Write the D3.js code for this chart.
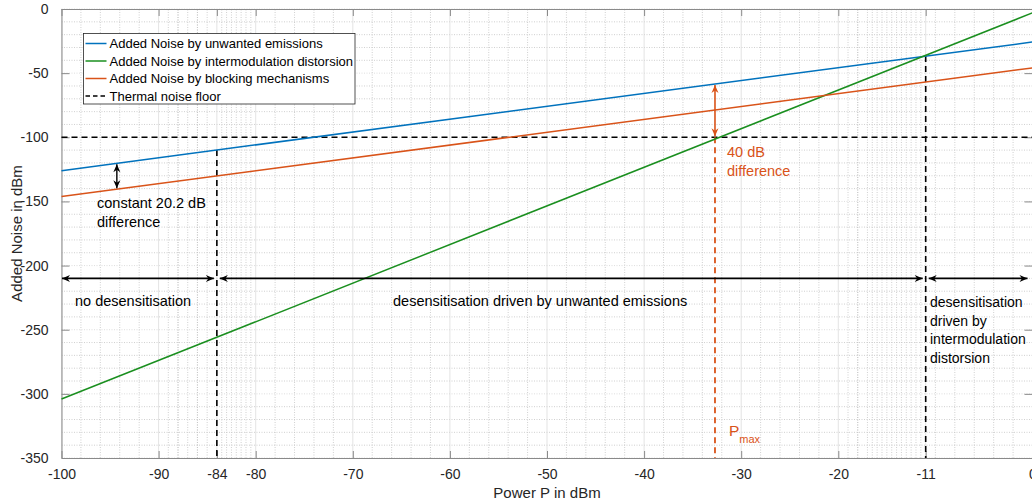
<!DOCTYPE html>
<html>
<head>
<meta charset="utf-8">
<script src="https://cdn.jsdelivr.net/npm/d3@7"></script>
<style>
  body { margin: 0; background: #fff; }
  text { font-family: "Liberation Sans", Arial, Helvetica, sans-serif; }
</style>
</head>
<body>
<svg id="chart" width="1032" height="504"></svg>
<script>
// data
const powerEnds = [-100, 0];
const unwantedEnds = [-126, -25.7];
const imdEnds = [-304, -3];
const blockingEnds = [-146.2, -45.9];
const thermalFloor = -100;
const boundaries = [-84, -11];
const regionSpans = [[-100, -84], [-84, -11], [-11, 0]];
const regionArrowLevel = -210;
const pMax = -32.7;
const diffAt = -94.3;

const xTicks = [-100, -90, -84, -80, -70, -60, -50, -40, -30, -20, -11, 0];
const yTicks = [-350, -300, -250, -200, -150, -100, -50, 0];
const xMinorExtra = [-89, -88, -87, -86, -85, -83.5, -83, -82.5, -81.5, -81, -80.5,
  -19, -18, -17, -16.5, -15.5, -15, -14.5, -13.5, -13, -12.5, -11.5];

const seriesNames = ['Added Noise by unwanted emissions', 'Added Noise by intermodulation distorsion',
  'Added Noise by blocking mechanisms', 'Thermal noise floor'];
const seriesColors = ['#0072BD', '#1A8F1F', '#D95319', '#000'];

const svg = d3.select('svg#chart');
const margin = { top: 9, right: -0.5, bottom: 46, left: 61.5 };
const W = +svg.attr('width'), H = +svg.attr('height');
const x = d3.scaleLinear().domain([-100, 0]).range([margin.left, W - margin.right]);
const y = d3.scaleLinear().domain([-350, 0]).range([H - margin.bottom, margin.top]);

const lineVal = (ends, p) => ends[0] + (ends[1] - ends[0]) * (p - powerEnds[0]) / (powerEnds[1] - powerEnds[0]);

// grid
const xMinor = d3.range(-98, 0, 2).filter(v => !xTicks.includes(v)).concat(xMinorExtra);
const yMinor = d3.range(-340, 0, 10).filter(v => !yTicks.includes(v));
const grid = svg.append('g');
grid.selectAll('.xmin').data(xMinor).join('line')
    .attr('x1', d => x(d)).attr('x2', d => x(d)).attr('y1', y(-350)).attr('y2', y(0))
    .attr('stroke', '#c4c4c4').attr('stroke-width', 0.8).attr('stroke-dasharray', '1,1.5');
grid.selectAll('.ymin').data(yMinor).join('line')
    .attr('y1', d => y(d)).attr('y2', d => y(d)).attr('x1', x(-100)).attr('x2', x(0))
    .attr('stroke', '#c4c4c4').attr('stroke-width', 0.8).attr('stroke-dasharray', '1,1.5');
grid.selectAll('.xmaj').data(xTicks).join('line')
    .attr('x1', d => x(d)).attr('x2', d => x(d)).attr('y1', y(-350)).attr('y2', y(0))
    .attr('stroke', '#dcdcdc').attr('stroke-width', 0.8);
grid.selectAll('.ymaj').data(yTicks).join('line')
    .attr('y1', d => y(d)).attr('y2', d => y(d)).attr('x1', x(-100)).attr('x2', x(0))
    .attr('stroke', '#d6d6d6').attr('stroke-width', 0.8).attr('stroke-dasharray', '1,1.5');

// axes
const axisColor = '#8a8a8a';
const fmt = d => `${d}`;
const styleAxis = g => {
  g.select('.domain').attr('stroke', axisColor);
  g.selectAll('.tick line').attr('stroke', axisColor);
  g.selectAll('.tick text').attr('fill', '#262626').style('font-size', '14px')
      .style('font-family', '"Liberation Sans", Arial, sans-serif');
};
svg.append('g').attr('transform', `translate(0,${y(-350)})`)
    .call(d3.axisBottom(x).tickValues(xTicks).tickFormat(fmt).tickSize(-7).tickSizeOuter(0).tickPadding(11))
    .call(styleAxis);
svg.append('g').attr('transform', `translate(0,${y(0)})`)
    .call(d3.axisTop(x).tickValues(xTicks).tickSize(-7).tickSizeOuter(0).tickFormat(''))
    .call(styleAxis);
svg.append('g').attr('transform', `translate(${x(-100)},0)`)
    .call(d3.axisLeft(y).tickValues(yTicks).tickFormat(fmt).tickSize(-8).tickSizeOuter(0).tickPadding(13))
    .call(styleAxis);
svg.append('g').attr('transform', `translate(${x(0)},0)`)
    .call(d3.axisRight(y).tickValues(yTicks).tickSize(-8).tickSizeOuter(0).tickFormat(''))
    .call(styleAxis);

svg.append('text').attr('x', (x(-100) + x(0)) / 2).attr('y', 498).attr('text-anchor', 'middle')
    .style('font-size', '15px').attr('fill', '#262626').text('Power P in dBm');
svg.append('text').attr('transform', `translate(22,${(y(0) + y(-350)) / 2}) rotate(-90)`)
    .attr('text-anchor', 'middle').style('font-size', '15px').attr('fill', '#262626')
    .text('Added Noise in dBm');

// arrow markers
const defs = svg.append('defs');
[['blk', '#000'], ['org', '#D95319']].forEach(([id, c]) => {
  defs.append('marker').attr('id', 'arr-' + id).attr('viewBox', '-9 -4 10 8')
      .attr('refX', 0).attr('refY', 0).attr('markerWidth', 10).attr('markerHeight', 8)
      .attr('markerUnits', 'userSpaceOnUse').attr('orient', 'auto-start-reverse')
    .append('path').attr('d', 'M0,0 L-8,-3.5 L-5.5,0 L-8,3.5 Z').attr('fill', c);
});

// thermal floor and boundaries
const line = d3.line().x(d => x(d[0])).y(d => y(d[1]));
svg.append('path').datum([[-100, thermalFloor], [0, thermalFloor]]).attr('d', line)
    .attr('stroke', '#000').attr('stroke-width', 1.6).attr('stroke-dasharray', '6,4').attr('fill', 'none');
svg.selectAll('.bound').data(boundaries).join('path')
    .attr('d', d => line([[d, lineVal(unwantedEnds, d)], [d, -350]]))
    .attr('stroke', '#000').attr('stroke-width', 1.6).attr('stroke-dasharray', '6,4').attr('fill', 'none');
svg.append('path').datum([[pMax, thermalFloor], [pMax, -350]]).attr('d', line)
    .attr('stroke', '#D95319').attr('stroke-width', 1.8).attr('stroke-dasharray', '6,4').attr('fill', 'none');

// series
const series = [unwantedEnds, imdEnds, blockingEnds];
svg.selectAll('.series').data(series).join('path')
    .attr('d', d => line(powerEnds.map((p, i) => [p, d[i]])))
    .attr('stroke', (d, i) => seriesColors[i]).attr('stroke-width', 1.5).attr('fill', 'none');

// region arrows
svg.selectAll('.span').data(regionSpans).join('line')
    .attr('x1', d => x(d[0]) + (d[0] === -100 ? 0.5 : 3))
    .attr('x2', d => x(d[1]) - (d[1] === 0 ? 5 : 3))
    .attr('y1', y(regionArrowLevel)).attr('y2', y(regionArrowLevel))
    .attr('stroke', '#000').attr('stroke-width', 1.6)
    .attr('marker-start', 'url(#arr-blk)').attr('marker-end', 'url(#arr-blk)');

// 20.2 dB arrow
svg.append('line').attr('x1', x(diffAt)).attr('x2', x(diffAt))
    .attr('y1', y(lineVal(unwantedEnds, diffAt)) + 1).attr('y2', y(lineVal(blockingEnds, diffAt)) - 1)
    .attr('stroke', '#000').attr('stroke-width', 1.4)
    .attr('marker-start', 'url(#arr-blk)').attr('marker-end', 'url(#arr-blk)');
// 40 dB arrow
svg.append('line').attr('x1', x(pMax)).attr('x2', x(pMax))
    .attr('y1', y(lineVal(unwantedEnds, pMax)) + 1).attr('y2', y(thermalFloor) - 1)
    .attr('stroke', '#D95319').attr('stroke-width', 1.6)
    .attr('marker-start', 'url(#arr-org)').attr('marker-end', 'url(#arr-org)');

// annotations
const note = (lines, px, py, color, size = 14.5) => {
  const t = svg.append('text').attr('x', px).attr('y', py).attr('fill', color).style('font-size', size + 'px');
  lines.forEach((s, i) => t.append('tspan').attr('x', px).attr('dy', i ? 18.5 : 0).text(s));
};
note(['constant 20.2 dB', 'difference'], 97, 208, '#000');
note(['40 dB', 'difference'], 727, 157, '#D95319');
note(['no desensitisation'], 75, 306, '#000');
note(['desensitisation driven by unwanted emissions'], 393, 306, '#000');
note(['desensitisation', 'driven by', 'intermodulation', 'distorsion'], 930, 307, '#000', 14);
const pm = svg.append('text').attr('x', 729).attr('y', 436).attr('fill', '#D95319').style('font-size', '15.5px');
pm.append('tspan').text('P');
pm.append('tspan').attr('dy', 7).style('font-size', '11px').text('max');

// legend
const lg = svg.append('g').attr('transform', 'translate(83.5,33.5)');
lg.append('rect').attr('width', 271.5).attr('height', 70.5).attr('fill', '#fff')
    .attr('stroke', '#262626').attr('stroke-width', 0.8);
seriesNames.forEach((name, i) => {
  const cy = 10 + i * 17.5;
  lg.append('line').attr('x1', 2).attr('x2', 23).attr('y1', cy).attr('y2', cy)
      .attr('stroke', seriesColors[i]).attr('stroke-width', i === 3 ? 1.3 : 1.5)
      .attr('stroke-dasharray', i === 3 ? '4.5,3' : null);
  lg.append('text').attr('x', 26).attr('y', cy + 4.5).style('font-size', '13px')
      .attr('fill', '#000').text(name);
});
</script>
</body>
</html>
